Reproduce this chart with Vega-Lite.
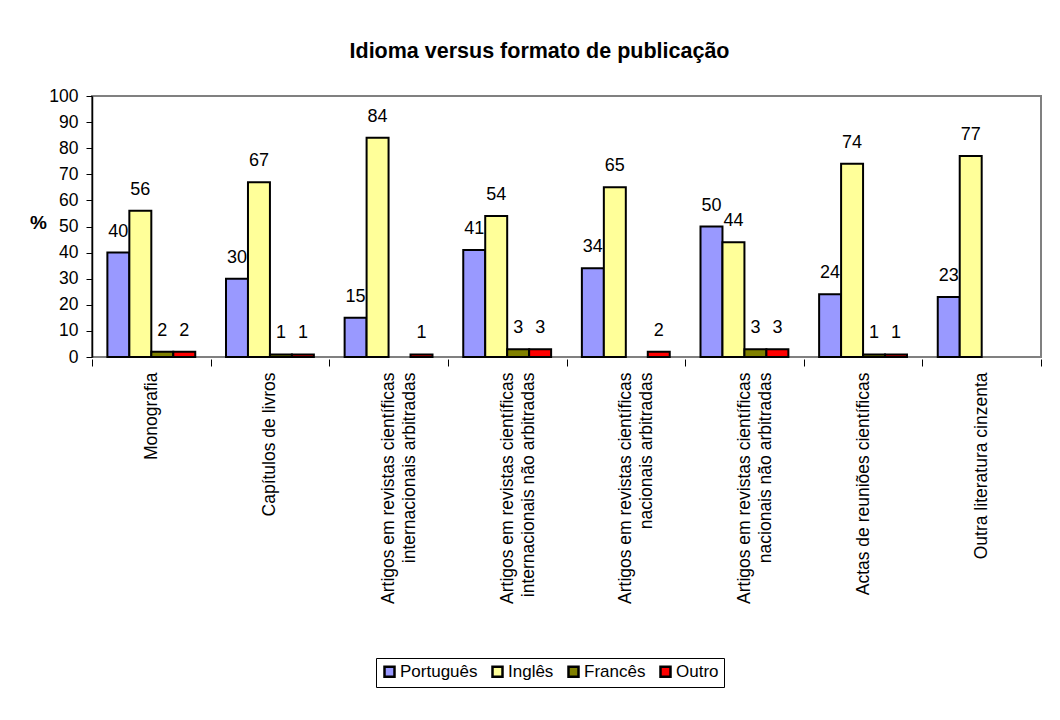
{
  "$schema": "https://vega.github.io/schema/vega-lite/v6.json",
  "autosize": {"type": "none"},
  "width": 949,
  "height": 261,
  "padding": {"left": 92, "top": 96, "right": 19, "bottom": 363},
  "background": "white",
  "config": {
    "font": "Liberation Sans",
    "view": {"stroke": "#808080", "strokeWidth": 2},
    "legend": {"symbolStrokeColor": "black"}
  },
  "title": {
    "text": "Idioma versus formato de publicação",
    "fontSize": 21.5,
    "fontWeight": "bold",
    "font": "Liberation Sans",
    "color": "black",
    "anchor": "middle",
    "frame": "group",
    "dx": -27,
    "offset": 8,
    "baseline": "alphabetic"
  },
  "data": {
    "values": [
      {"cat": "Monografia", "lang": "Português", "val": 40},
      {"cat": "Monografia", "lang": "Inglês", "val": 56},
      {"cat": "Monografia", "lang": "Francês", "val": 2},
      {"cat": "Monografia", "lang": "Outro", "val": 2},
      {"cat": "Capítulos de livros", "lang": "Português", "val": 30},
      {"cat": "Capítulos de livros", "lang": "Inglês", "val": 67},
      {"cat": "Capítulos de livros", "lang": "Francês", "val": 1},
      {"cat": "Capítulos de livros", "lang": "Outro", "val": 1},
      {"cat": "Artigos em revistas científicas|internacionais arbitradas", "lang": "Português", "val": 15},
      {"cat": "Artigos em revistas científicas|internacionais arbitradas", "lang": "Inglês", "val": 84},
      {"cat": "Artigos em revistas científicas|internacionais arbitradas", "lang": "Outro", "val": 1},
      {"cat": "Artigos em revistas científicas|internacionais não arbitradas", "lang": "Português", "val": 41},
      {"cat": "Artigos em revistas científicas|internacionais não arbitradas", "lang": "Inglês", "val": 54},
      {"cat": "Artigos em revistas científicas|internacionais não arbitradas", "lang": "Francês", "val": 3},
      {"cat": "Artigos em revistas científicas|internacionais não arbitradas", "lang": "Outro", "val": 3},
      {"cat": "Artigos em revistas científicas|nacionais arbitradas", "lang": "Português", "val": 34},
      {"cat": "Artigos em revistas científicas|nacionais arbitradas", "lang": "Inglês", "val": 65},
      {"cat": "Artigos em revistas científicas|nacionais arbitradas", "lang": "Outro", "val": 2},
      {"cat": "Artigos em revistas científicas|nacionais não arbitradas", "lang": "Português", "val": 50},
      {"cat": "Artigos em revistas científicas|nacionais não arbitradas", "lang": "Inglês", "val": 44},
      {"cat": "Artigos em revistas científicas|nacionais não arbitradas", "lang": "Francês", "val": 3},
      {"cat": "Artigos em revistas científicas|nacionais não arbitradas", "lang": "Outro", "val": 3},
      {"cat": "Actas de reuniões científicas", "lang": "Português", "val": 24},
      {"cat": "Actas de reuniões científicas", "lang": "Inglês", "val": 74},
      {"cat": "Actas de reuniões científicas", "lang": "Francês", "val": 1},
      {"cat": "Actas de reuniões científicas", "lang": "Outro", "val": 1},
      {"cat": "Outra literatura cinzenta", "lang": "Português", "val": 23},
      {"cat": "Outra literatura cinzenta", "lang": "Inglês", "val": 77}
    ]
  },
  "encoding": {
    "x": {
      "field": "cat",
      "type": "nominal",
      "sort": null,
      "scale": {"paddingInner": 0, "paddingOuter": 0},
      "axis": {
        "title": null,
        "domain": false,
        "tickBand": "extent",
        "tickColor": "black",
        "tickSize": 7,
        "offset": 2,
        "labelAngle": -90,
        "labelAlign": "right",
        "labelBaseline": "middle",
        "labelPadding": 6,
        "labelFontSize": 17.5,
        "labelColor": "black",
        "labelLineHeight": 21,
        "labelLimit": 400,
        "labelExpr": "split(datum.label, '|')"
      }
    },
    "xOffset": {
      "field": "lang",
      "type": "nominal",
      "scale": {"domain": ["Português", "Inglês", "Francês", "Outro"], "paddingInner": 0, "paddingOuter": 0.7}
    },
    "y": {
      "field": "val",
      "type": "quantitative",
      "scale": {"domain": [0, 100], "nice": false},
      "axis": {
        "title": "%",
        "titleAngle": 0,
        "titleFontSize": 19,
        "titleFontWeight": "bold",
        "titleColor": "black",
        "titleX": -54,
        "titleY": 126,
        "titleAlign": "center",
        "titleBaseline": "middle",
        "values": [0, 10, 20, 30, 40, 50, 60, 70, 80, 90, 100],
        "grid": false,
        "domainColor": "black",
        "domainWidth": 1.5,
        "tickColor": "black",
        "tickSize": 6,
        "labelFontSize": 17.5,
        "labelColor": "black",
        "labelPadding": 8
      }
    }
  },
  "layer": [
    {
      "mark": {"type": "bar", "stroke": "black", "strokeWidth": 2},
      "encoding": {
        "color": {
          "field": "lang",
          "type": "nominal",
          "scale": {
            "domain": ["Português", "Inglês", "Francês", "Outro"],
            "range": ["#9999FF", "#FFFF99", "#808000", "#FF0000"]
          },
          "legend": {
            "title": null,
            "orient": "none",
            "legendX": 284,
            "legendY": 562,
            "direction": "horizontal",
            "symbolType": "square",
            "symbolSize": 100,
            "symbolStrokeWidth": 2.5,
            "symbolStrokeColor": "black",
            "symbolOpacity": 1,
            "labelFontSize": 17,
            "labelColor": "black",
            "labelOffset": 2,
            "columnPadding": 9,
            "padding": 5,
            "strokeColor": "black",
            "fillColor": "white"
          }
        }
      }
    },
    {
      "mark": {"type": "text", "baseline": "middle", "dy": -21, "fontSize": 18, "color": "black"},
      "encoding": {
        "text": {"field": "val", "type": "quantitative"}
      }
    }
  ]
}
